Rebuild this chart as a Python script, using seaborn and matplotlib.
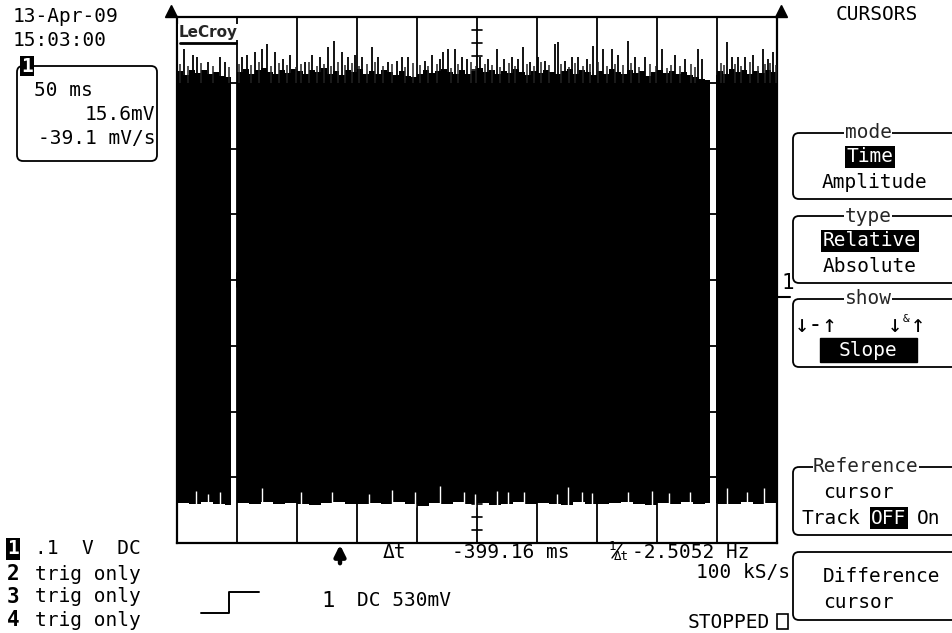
"""
LeCroy scope capture: 50 ms/div, 0.1 V/div, relative time cursors.
"""
import numpy as np
import matplotlib
matplotlib.use("Agg")
import matplotlib.pyplot as plt
import seaborn as sns
from matplotlib.patches import FancyBboxPatch, Rectangle

# ---- trace data (time in ms, voltage in V) ----
# dense part of the noise band, top edge in 5 ms bins
base_top = [
    0.318, 0.312, 0.320, 0.315, 0.319, 0.313, 0.317, 0.311, 0.308, 0.305,
    0.317, 0.321, 0.314, 0.319, 0.322, 0.316, 0.313, 0.320, 0.315, 0.321,
    0.318, 0.313, 0.319, 0.316, 0.322, 0.314, 0.318, 0.312, 0.319, 0.316,
    0.321, 0.314, 0.318, 0.313, 0.320, 0.316, 0.312, 0.318, 0.311, 0.308,
    0.314, 0.320, 0.315, 0.318, 0.321, 0.316, 0.313, 0.320, 0.314, 0.318,
    0.322, 0.316, 0.319, 0.313, 0.318, 0.315, 0.321, 0.316, 0.312, 0.318,
    0.315, 0.320, 0.316, 0.313, 0.318, 0.321, 0.314, 0.319, 0.316, 0.312,
    0.318, 0.314, 0.321, 0.316, 0.313, 0.320, 0.315, 0.318, 0.311, 0.317,
    0.320, 0.315, 0.318, 0.313, 0.317, 0.312, 0.309, 0.306, 0.304, 0.312,
    0.318, 0.314, 0.321, 0.316, 0.319, 0.313, 0.318, 0.315, 0.320, 0.317,
]
# bottom edge in 10 ms bins
base_bottom = [
    -0.339, -0.341, -0.338, -0.340, -0.342, -0.339, -0.340, -0.338, -0.341, -0.339,
    -0.340, -0.342, -0.339, -0.338, -0.341, -0.340, -0.339, -0.341, -0.338, -0.340,
    -0.343, -0.339, -0.340, -0.338, -0.341, -0.339, -0.342, -0.340, -0.338, -0.341,
    -0.339, -0.340, -0.342, -0.338, -0.340, -0.341, -0.339, -0.338, -0.340, -0.342,
    -0.339, -0.341, -0.338, -0.340, -0.339, -0.341, -0.340, -0.338, -0.341, -0.339,
]
# tall positive peaks above the band
spike_t = [5.8, 13.3, 16.7, 25.8, 35.8, 40.0, 54.2, 58.3, 65.0, 70.8, 75.0, 81.7,
           88.3, 94.2, 106.7, 112.5, 119.2, 125.8, 130.8, 137.5, 142.5, 148.3,
           154.2, 162.5, 167.5, 175.8, 183.3, 187.5, 192.5, 206.7, 212.5, 219.2,
           221.7, 225.8, 231.7, 237.5, 241.7, 252.5, 259.2, 266.7, 272.5, 279.2,
           284.2, 288.3, 294.2, 300.8, 306.7, 315.0, 317.5, 323.3, 329.2, 334.2,
           341.7, 346.7, 355.0, 362.5, 367.5, 375.8, 381.7, 390.0, 404.2, 415.0,
           423.3, 434.2, 437.5, 458.3, 462.5, 467.5, 473.3, 480.0, 488.3, 492.5,
           496.7]
spike_v = [0.351, 0.342, 0.339, 0.331, 0.339, 0.331, 0.339, 0.342, 0.347, 0.351,
           0.359, 0.347, 0.336, 0.342, 0.332, 0.342, 0.339, 0.354, 0.363, 0.347,
           0.339, 0.342, 0.339, 0.354, 0.339, 0.332, 0.333, 0.339, 0.339, 0.333,
           0.342, 0.336, 0.347, 0.351, 0.351, 0.339, 0.336, 0.339, 0.336, 0.351,
           0.336, 0.339, 0.336, 0.354, 0.332, 0.339, 0.333, 0.359, 0.362, 0.333,
           0.339, 0.339, 0.336, 0.356, 0.351, 0.351, 0.342, 0.363, 0.339, 0.339,
           0.351, 0.342, 0.336, 0.351, 0.336, 0.362, 0.339, 0.339, 0.339, 0.342,
           0.351, 0.336, 0.347]
# shorter peaks filling the ragged top edge
minor_t = [2.5, 9.2, 20.0, 30.0, 43.3, 51.7, 61.7, 68.3, 78.3, 85.0, 91.7, 99.2,
           103.3, 110.0, 116.7, 122.5, 128.3, 134.2, 140.0, 145.8, 151.7, 158.3,
           165.0, 171.7, 179.2, 190.0, 196.7, 202.5, 209.2, 216.7, 228.3, 234.2,
           245.0, 249.2, 256.7, 262.5, 269.2, 276.7, 281.7, 291.7, 297.5, 303.3,
           310.0, 320.0, 326.7, 331.7, 338.3, 344.2, 350.8, 358.3, 365.0, 371.7,
           378.3, 385.0, 394.2, 399.2, 408.3, 411.7, 419.2, 428.3, 431.7, 453.3,
           455.8, 465.0, 470.0, 477.5, 484.2, 490.0, 494.2, 499.2]
minor_v = [0.328, 0.325, 0.330, 0.326, 0.324, 0.329, 0.327, 0.332, 0.325, 0.330,
           0.327, 0.324, 0.328, 0.331, 0.326, 0.329, 0.325, 0.332, 0.327, 0.330,
           0.325, 0.328, 0.331, 0.326, 0.329, 0.324, 0.330, 0.327, 0.325, 0.329,
           0.323, 0.328, 0.331, 0.326, 0.329, 0.327, 0.324, 0.330, 0.326, 0.328,
           0.325, 0.331, 0.327, 0.329, 0.324, 0.330, 0.326, 0.328, 0.332, 0.325,
           0.329, 0.327, 0.330, 0.324, 0.328, 0.326, 0.323, 0.327, 0.325, 0.329,
           0.324, 0.330, 0.327, 0.329, 0.325, 0.331, 0.326, 0.328, 0.330, 0.327]
# places where the negative swing stops short of the band floor
notch_t = [15.8, 25.8, 35.8, 70.8, 103.3, 129.2, 160.0, 179.2, 198.3, 219.2,
           239.2, 248.3, 266.7, 275.8, 289.2, 316.7, 325.8, 337.5, 345.8, 375.8,
           395.8, 410.0, 427.5, 458.3, 475.0, 489.2]
notch_v = [-0.321, -0.325, -0.323, -0.316, -0.322, -0.322, -0.325, -0.320, -0.323,
           -0.314, -0.322, -0.325, -0.321, -0.323, -0.322, -0.325, -0.315, -0.322,
           -0.324, -0.322, -0.321, -0.324, -0.322, -0.316, -0.323, -0.317]

cursor_diff_ms = 47.5
cursor_ref_ms = 446.66
cursor_gap_ms = 2.4

# ---- panel text ----
date_str = "13-Apr-09"
time_str = "15:03:00"
cursor_readout = ["50 ms", "15.6mV", "-39.1 mV/s"]
channel_rows = [("1", ".1  V  DC"), ("2", "trig only"), ("3", "trig only"), ("4", "trig only")]
delta_t = "-399.16 ms"
inv_delta_t = "-2.5052 Hz"
sample_rate = "100 kS/s"
trigger_text = "DC 530mV"

sns.set_theme(style="white")
plt.rcParams["font.family"] = ["DejaVu Sans Mono", "DejaVu Sans"]

W, H = 952, 633
fig = plt.figure(figsize=(W / 100, H / 100), dpi=100)
fig.patch.set_facecolor("white")

# graticule: 10 x 8 divisions
ax = fig.add_axes([177 / W, (H - 543) / H, 600 / W, 526 / H])
ax.set_facecolor("white")
ax.set_xlim(0, 500)
ax.set_ylim(-0.4, 0.4)
ax.set_xticks(np.arange(0, 501, 50))
ax.set_yticks(np.arange(-0.4, 0.41, 0.1))
ax.tick_params(length=0, labelbottom=False, labelleft=False)
ax.grid(True, color="black", lw=1.3)
ax.set_axisbelow(True)
for s in ax.spines.values():
    s.set_color("black")
    s.set_linewidth(1.6)

# small division marks on the centre axes
for v in np.arange(-0.4, 0.401, 0.02):
    ax.plot([245.5, 254.5], [v, v], color="black", lw=1.2, zorder=1)
for t in np.arange(0, 501, 10):
    ax.plot([t, t], [-0.01, 0.01], color="black", lw=1.2, zorder=1)

top = np.array(base_top)
bot = np.array(base_bottom)


def band_segment(a, b):
    edges = np.arange(0, 500, 5.0)
    pts = np.concatenate([[a], edges[(edges > a) & (edges < b)], [b]])
    i_top = np.minimum((pts // 5).astype(int), len(top) - 1)
    i_bot = np.minimum((pts // 10).astype(int), len(bot) - 1)
    ax.fill_between(pts, bot[i_bot], top[i_top], step="post",
                    color="black", lw=0, zorder=2)


segments = [(0, cursor_diff_ms - cursor_gap_ms),
            (cursor_diff_ms + cursor_gap_ms, cursor_ref_ms - cursor_gap_ms),
            (cursor_ref_ms + cursor_gap_ms, 500)]
for a, b in segments:
    band_segment(a, b)


def outside_gaps(ts):
    ts = np.asarray(ts)
    return (np.abs(ts - cursor_diff_ms) > cursor_gap_ms) & (np.abs(ts - cursor_ref_ms) > cursor_gap_ms)


mt, mv = np.array(minor_t), np.array(minor_v)
keep = outside_gaps(mt)
ax.vlines(mt[keep], 0.30, mv[keep], color="#222222", lw=1.1, zorder=3)
ax.vlines(spike_t, 0.30, spike_v, color="black", lw=1.3, zorder=3)
ax.vlines(notch_t, -0.345, notch_v, color="white", lw=1.0, zorder=3)

# ---- overlay in pixel coordinates for the scope's text and menus ----
ov = fig.add_axes([0, 0, 1, 1], zorder=5)
ov.set_xlim(0, W)
ov.set_ylim(H, 0)
ov.axis("off")
ov.patch.set_alpha(0)

FS = 14


def txt(x, y, s, ha="left", size=FS, **kw):
    ov.text(x, y, s, ha=ha, va="center", fontsize=size, color=kw.pop("color", "black"), **kw)


def hilite(x, y, s, ha="center", size=FS, pad=1.2, **kw):
    ov.text(x, y, s, ha=ha, va="center", fontsize=size, color="white",
            bbox=dict(facecolor="black", edgecolor="none", pad=pad), **kw)


def menu_box(y0, y1):
    ov.add_patch(FancyBboxPatch((793, y0), 200, y1 - y0,
                                boxstyle="round,pad=0,rounding_size=6",
                                fill=False, lw=1.3, ec="black"))


def box_title(x, y, s):
    ov.text(x, y, s, ha="center", va="center", fontsize=FS,
            bbox=dict(facecolor="white", edgecolor="none", pad=0.3))


# top-left: date and cursor readout
txt(13, 17, date_str)
txt(13, 40, time_str)
ov.add_patch(FancyBboxPatch((17, 66), 140, 95, boxstyle="round,pad=0,rounding_size=6",
                            fill=False, lw=1.3, ec="black"))
hilite(27, 66, "1", size=14, pad=0.6, fontweight="bold")
txt(34, 90, cursor_readout[0])
txt(155, 115, cursor_readout[1], ha="right")
txt(155, 138, cursor_readout[2], ha="right")

# logo and edge markers
ov.text(179, 32, "LeCroy", ha="left", va="center", fontsize=11, fontweight="bold",
        family="DejaVu Sans", bbox=dict(facecolor="white", edgecolor="none", pad=0.5))
ov.plot([180, 236], [43, 43], color="black", lw=2)
ov.plot([171], [11], marker="^", color="black", ms=8)
ov.plot([781], [11], marker="^", color="black", ms=8)
txt(782, 283, "1", size=15)
ov.plot([777, 790], [297, 297], color="black", lw=1.5)

# right-hand menu
txt(877, 15, "CURSORS", ha="center")
menu_box(133, 199)
box_title(868, 133, "mode")
hilite(870, 157, "Time")
txt(875, 183, "Amplitude", ha="center")

menu_box(216, 283)
box_title(868, 216, "type")
hilite(870, 241, "Relative")
txt(870, 267, "Absolute", ha="center")

menu_box(299, 367)
box_title(868, 299, "show")
txt(795, 325, "↓-↑", size=17)
txt(888, 325, "↓", size=17)
txt(903, 319, "&", size=8)
txt(911, 325, "↑", size=17)
ov.add_patch(Rectangle((820, 338), 97, 24, color="black"))
txt(868, 350, "Slope", ha="center", color="white")

menu_box(467, 535)
box_title(866, 467, "Reference")
txt(823, 493, "cursor")
txt(801, 518, "Track")
hilite(889, 518, "OFF")
txt(917, 518, "On")

menu_box(552, 620)
txt(823, 577, "Difference")
txt(823, 603, "cursor")

# bottom readouts
txt(790, 573, sample_rate, ha="right")
txt(688, 622, "STOPPED")
ov.add_patch(Rectangle((777, 614), 11, 15, fill=False, lw=1.2, ec="black"))

ov.annotate("", xy=(340, 542), xytext=(340, 566),
            arrowprops=dict(arrowstyle="-|>", lw=3.2, color="black", mutation_scale=16))
txt(383, 553, "Δt")
txt(452, 553, delta_t)
txt(609, 547, "1", size=9)
ov.plot([612, 622], [558, 544], color="black", lw=1.0)
txt(614, 557, "Δt", size=9)
txt(632, 553, inv_delta_t)

for i, (num, label) in enumerate(channel_rows):
    y = [549, 574, 597, 620][i]
    if num == "1":
        hilite(13, y, num, size=14, pad=0.8, fontweight="bold")
    else:
        txt(7, y, num, fontweight="bold", size=15)
    txt(35, y, label)

# trigger symbol and level
ov.plot([201, 229, 229, 259], [613, 613, 592, 592], color="black", lw=1.4)
txt(321, 601, "1", size=16)
txt(357, 601, trigger_text)

fig.savefig("out.png", dpi=100)
